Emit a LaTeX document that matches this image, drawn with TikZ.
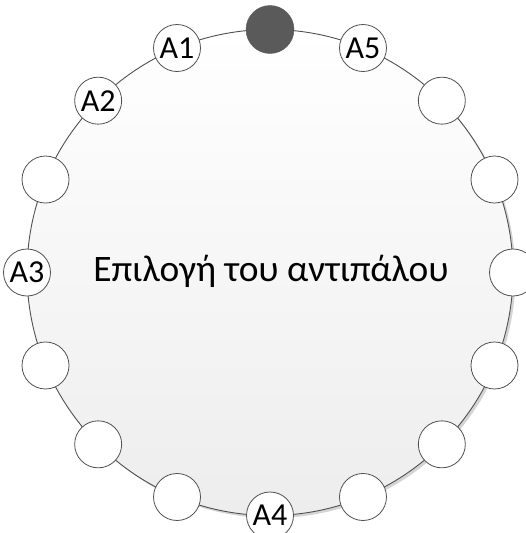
\documentclass[tikz,border=0pt]{standalone}
\usepackage{fontspec}
\setmainfont{Carlito}
\definecolor{edge}{HTML}{505050}
\definecolor{darkfill}{HTML}{5A5A5A}
\definecolor{shadowc}{HTML}{D4D4D4}
\definecolor{bottomc}{HTML}{EDEDED}
\begin{document}
\begin{tikzpicture}[x=1pt,y=-1pt,
  small/.style={circle,draw=edge,line width=0.8pt,fill=white,minimum size=47pt,inner sep=0pt,font=\fontsize{32}{32}\selectfont},
  hub/.style={circle,draw=darkfill,fill=darkfill,minimum size=48pt,inner sep=0pt},
  bigc/.style={circle,draw=edge,line width=0.9pt,top color=white,bottom color=bottomc,minimum size=486pt,inner sep=0pt}]
\useasboundingbox (0,0) rectangle (526,533);
\fill[shadowc] (272.5,275) circle (243pt);
\node[bigc] (main) at (270,272.5) {};
\node[anchor=base] (title) at (271,281.7) {\fontsize{37.4}{37.4}\selectfont Επιλογή του αντιπάλου};
\begin{scope}[shift={(270,272.5)}]
\node[hub] (c0) at (-90:243) {};
\node[small] (c1) at (-67.5:243) {A5};
\node[small] (c2) at (-45:243) {};
\node[small] (c3) at (-22.5:243) {};
\node[small] (c4) at (0:243) {};
\node[small] (c5) at (22.5:243) {};
\node[small] (c6) at (45:243) {};
\node[small] (c7) at (67.5:243) {};
\node[small] (c8) at (90:243) {A4};
\node[small] (c9) at (112.5:243) {};
\node[small] (c10) at (135:243) {};
\node[small] (c11) at (157.5:243) {};
\node[small] (c12) at (180:243) {A3};
\node[small] (c13) at (202.5:243) {};
\node[small] (c14) at (225:243) {A2};
\node[small] (c15) at (247.5:243) {A1};
\end{scope}
\end{tikzpicture}
\end{document}
